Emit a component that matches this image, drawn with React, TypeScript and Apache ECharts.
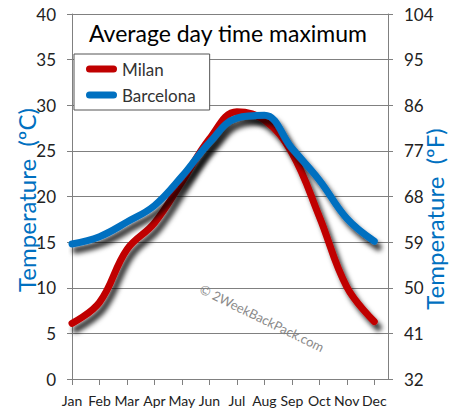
import React, { useEffect, useRef } from 'react';
import * as echarts from 'echarts';

const months = ['Jan', 'Feb', 'Mar', 'Apr', 'May', 'Jun', 'Jul', 'Aug', 'Sep', 'Oct', 'Nov', 'Dec'];
const milan = [6.1, 8.4, 14.2, 17.1, 21.6, 26.3, 29.3, 28.4, 24.8, 17.8, 10.1, 6.3];
const barcelona = [14.8, 15.6, 17.2, 19.0, 22.2, 25.9, 28.6, 28.9, 25.3, 21.8, 17.6, 15.1];
const fahrenheitTicks = ['32', '41', '50', '59', '68', '77', '86', '95', '104'];
const seriesNames = ['Milan', 'Barcelona'];
const chartTitle = 'Average day time maximum';
const leftAxisTitle = 'Temperature  (ºC)';
const rightAxisTitle = 'Temperature  (ºF)';
const watermark = '© 2WeekBackPack.com';

const FONT = 'Lato';
const GRID = '#808080';

export default function App() {
  const ref = useRef<HTMLDivElement>(null);

  useEffect(() => {
    if (!ref.current) return;
    const chart = echarts.init(ref.current, null, { renderer: 'svg' });
    const monthIdx = months.map((_, i) => i);
    const shadow = {
      shadowColor: 'rgba(0,0,0,0.8)',
      shadowBlur: 5,
      shadowOffsetX: 4,
      shadowOffsetY: 6,
    };
    chart.setOption({
      animation: false,
      backgroundColor: '#fff',
      grid: { left: 72, top: 14, right: 65, bottom: 41 },
      xAxis: {
        type: 'value',
        min: 0,
        max: 11.5,
        interval: 1,
        splitLine: { show: false },
        axisLine: { show: true, lineStyle: { color: GRID } },
        axisTick: { show: true, length: 6, customValues: monthIdx, lineStyle: { color: GRID } },
        axisLabel: {
          customValues: monthIdx,
          formatter: (v: number) => months[Math.round(v)] ?? '',
          fontFamily: FONT,
          fontSize: 14,
          color: '#222',
          margin: 14,
        },
      },
      yAxis: [
        {
          type: 'value',
          position: 'left',
          min: 0,
          max: 40,
          interval: 5,
          axisLine: { show: true, lineStyle: { color: GRID } },
          axisTick: { show: true, length: 5, lineStyle: { color: GRID } },
          splitLine: { show: true, lineStyle: { color: GRID, width: 1 } },
          axisLabel: { fontFamily: FONT, fontSize: 17, color: '#222', margin: 16 },
        },
        {
          type: 'value',
          position: 'right',
          min: 0,
          max: 40,
          interval: 5,
          axisLine: { show: true, lineStyle: { color: GRID } },
          axisTick: { show: true, length: 5, lineStyle: { color: GRID } },
          splitLine: { show: false },
          axisLabel: {
            fontFamily: FONT,
            fontSize: 17,
            color: '#222',
            margin: 16,
            formatter: (v: number) => fahrenheitTicks[Math.round(v / 5)] ?? '',
          },
        },
      ],
      legend: {
        data: seriesNames,
        orient: 'vertical',
        left: 74,
        top: 54,
        padding: [5, 14, 5, 12],
        itemGap: 6,
        itemWidth: 31,
        itemHeight: 7,
        icon: 'path://M3.5,0 H27.5 A3.5,3.5 0 0 1 27.5,7 H3.5 A3.5,3.5 0 0 1 3.5,0 Z',
        backgroundColor: '#fff',
        borderColor: '#555',
        borderWidth: 1,
        itemStyle: { shadowBlur: 0, shadowOffsetX: 0, shadowOffsetY: 0 },
        textStyle: { fontFamily: FONT, fontSize: 17, color: '#333', lineHeight: 20 },
        z: 10,
      },
      graphic: [
        {
          type: 'text',
          x: 228,
          y: 33,
          z: 5,
          style: { text: chartTitle, font: `23px ${FONT}`, fill: '#000', align: 'center', verticalAlign: 'middle' },
        },
        {
          type: 'text',
          x: 26,
          y: 200,
          rotation: Math.PI / 2,
          style: { text: leftAxisTitle, font: `24px ${FONT}`, fill: '#0070C0', align: 'center', verticalAlign: 'middle' },
        },
        {
          type: 'text',
          x: 434,
          y: 219,
          rotation: Math.PI / 2,
          style: { text: rightAxisTitle, font: `24px ${FONT}`, fill: '#0070C0', align: 'center', verticalAlign: 'middle' },
        },
        {
          type: 'text',
          x: 262,
          y: 318,
          rotation: (-26 * Math.PI) / 180,
          style: { text: watermark, font: `13px ${FONT}`, fill: '#8a8a8a', align: 'center', verticalAlign: 'middle' },
        },
      ],
      series: [
        {
          name: seriesNames[0],
          type: 'line',
          smooth: 0.4,
          showSymbol: false,
          color: '#C00000',
          data: milan.map((v, i) => [i, v]),
          lineStyle: { width: 7, color: '#C00000', cap: 'round', join: 'round', ...shadow },
        },
        {
          name: seriesNames[1],
          type: 'line',
          smooth: 0.4,
          showSymbol: false,
          color: '#0070C0',
          data: barcelona.map((v, i) => [i, v]),
          lineStyle: { width: 7, color: '#0070C0', cap: 'round', join: 'round', ...shadow },
        },
      ],
    });
    return () => chart.dispose();
  }, []);

  return <div ref={ref} style={{ width: 453, height: 420, position: 'absolute', left: 0, top: 0 }} />;
}
